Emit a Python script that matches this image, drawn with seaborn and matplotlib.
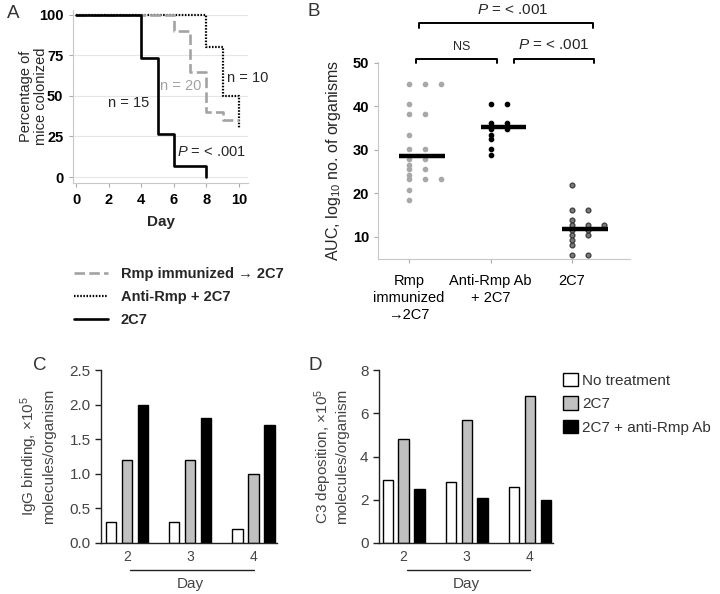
import pandas as pd
import matplotlib
matplotlib.use("Agg")
import matplotlib.pyplot as plt
from matplotlib.lines import Line2D
from matplotlib.patches import Patch
import seaborn as sns

# --- Panel A: percentage of mice still colonized ---
rmp_days = [0, 6, 7, 8, 9, 10]
rmp_pct = [100, 90, 65, 40, 35, 35]
anti_days = [0, 8, 9, 10]
anti_pct = [100, 80, 50, 30]
c2c7_days = [0, 4, 5, 6, 8]
c2c7_pct = [100, 73.3, 26.7, 6.7, 0]
km_labels = ["Rmp immunized \u2192 2C7", "Anti-Rmp + 2C7", "2C7"]

# --- Panel B: AUC per mouse ---
auc_groups = ["Rmp\nimmunized\n\u21922C7", "Anti-Rmp Ab\n+ 2C7", "2C7"]
auc_rmp = [45.1, 45.1, 45.1, 40.5, 38.2, 38.2, 33.5, 30.1, 30.1, 27.8, 27.8,
           26.6, 25.5, 25.5, 24.3, 23.2, 23.2, 23.2, 20.8, 18.5]
auc_anti = [40.5, 40.5, 36.1, 36.1, 34.9, 34.9, 33.5, 32.4, 30.1, 28.9]
auc_2c7 = [22.0, 16.2, 16.2, 13.9, 12.8, 12.8, 12.8, 11.6, 11.6, 10.4, 10.4,
           9.3, 8.1, 5.8, 5.8]
auc_medians = [28.5, 35.2, 11.8]

# --- Panels C and D: bars by day ---
days = ["2", "3", "4"]
treatments = ["No treatment", "2C7", "2C7 + anti-Rmp Ab"]
igg_none = [0.3, 0.3, 0.2]
igg_2c7 = [1.2, 1.2, 1.0]
igg_both = [2.0, 1.8, 1.7]
c3_none = [2.9, 2.8, 2.6]
c3_2c7 = [4.8, 5.7, 6.8]
c3_both = [2.5, 2.1, 2.0]

sns.set_theme(style="ticks")
plt.rcParams['font.family'] = ['Liberation Sans', 'DejaVu Sans']
plt.rcParams['mathtext.fontset'] = 'custom'
plt.rcParams['mathtext.rm'] = 'Liberation Sans'
plt.rcParams['mathtext.it'] = 'Liberation Sans:italic'
plt.rcParams['mathtext.bf'] = 'Liberation Sans:bold'

W, H = 720, 594
fig = plt.figure(figsize=(7.2, 5.94), dpi=100)


def px_axes(left, top, right, bottom):
    return fig.add_axes([left / W, 1 - bottom / H, (right - left) / W, (bottom - top) / H])


# ---------------- Panel A ----------------
axA = px_axes(73, 10, 248, 183)
km_styles = [
    (rmp_days, rmp_pct, '#a3a3a3', (4, 1.6), 1.9),
    (anti_days, anti_pct, 'black', (0.7, 0.7), 1.6),
    (c2c7_days, c2c7_pct, 'black', '', 1.9),
]
handles = []
# dotted first, then dashed, solid on top
for d, p, col, dash, lw in [km_styles[1], km_styles[0], km_styles[2]]:
    sns.lineplot(x=d, y=p, color=col, linewidth=lw, drawstyle='steps-post',
                 estimator=None, ax=axA)
    line = axA.lines[-1]
    if dash:
        line.set_dashes(dash)
for d, p, col, dash, lw in km_styles:
    h = Line2D([], [], color=col, linewidth=lw)
    if dash:
        h.set_dashes(dash)
    handles.append(h)

axA.set_xlim(-0.2, 10.55)
axA.set_ylim(-3.7, 103)
axA.set_xticks(range(0, 11, 2))
axA.set_yticks([0, 25, 50, 75, 100])
axA.grid(axis='y', color='#e6e6e6', linewidth=0.8)
axA.set_axisbelow(True)
for s in ['top', 'right']:
    axA.spines[s].set_visible(False)
for s in ['left', 'bottom']:
    axA.spines[s].set_color('#c8c8c8')
    axA.spines[s].set_linewidth(0.8)
axA.tick_params(axis='both', colors='#aaaaaa', labelcolor='black', length=3,
                width=0.8, labelsize=10.5, pad=4)
for t in axA.get_xticklabels() + axA.get_yticklabels():
    t.set_fontweight('bold')
axA.set_xlabel('Day', fontsize=11, fontweight='bold', labelpad=6)
axA.set_ylabel('Percentage of\nmice colonized', fontsize=10.5, linespacing=1.1)
axA.yaxis.set_label_coords(-0.145, 0.5)

axA.text(3.2, 45.5, 'n = 15', fontsize=10.5, ha='center', va='center')
axA.text(6.4, 56, 'n = 20', fontsize=10.5, ha='center', va='center', color='#a3a3a3')
axA.text(9.25, 61, 'n = 10', fontsize=10.5, ha='left', va='center')
axA.text(8.3, 15.4, '$P$ = < .001', fontsize=10.5, ha='center', va='center')

fig.legend(handles, km_labels, loc='upper left', bbox_to_anchor=(74 / W, 1 - 267 / H),
           frameon=False, handlelength=2.3, handletextpad=0.9, labelspacing=0.62,
           borderpad=0, borderaxespad=0, prop={'size': 10.5, 'weight': 'bold'})

# ---------------- Panel B ----------------
axB = px_axes(378, 62, 630, 259)
auc = pd.DataFrame({
    'group': [0] * len(auc_rmp) + [1] * len(auc_anti) + [2] * len(auc_2c7),
    'auc': auc_rmp + auc_anti + auc_2c7,
})
# repeated values are spread sideways, one column per repeat
auc['rank'] = auc.groupby(['group', 'auc']).cumcount()
auc['xpos'] = auc['group'] + auc['rank'] * 0.196
dot_styles = [('#a8a8a8', '#a8a8a8', 10), ('black', 'black', 10), ('#7a7a7a', '#3c3c3c', 12)]
for g, (fc, ec, size) in enumerate(dot_styles):
    sns.scatterplot(data=auc[auc['group'] == g], x='xpos', y='auc', color=fc,
                    edgecolor=ec, linewidth=0.9, s=size, ax=axB, zorder=3)
for g, m in enumerate(auc_medians):
    axB.hlines(m, g - 0.12, g + 0.44, color='black', linewidth=3.2, zorder=4)

axB.set_xlim(-0.38, 2.71)
axB.set_ylim(4.92, 50.2)
axB.set_xticks(range(3))
axB.set_xticklabels(auc_groups)
axB.set_yticks([10, 20, 30, 40, 50])
for s in ['top', 'right']:
    axB.spines[s].set_visible(False)
for s in ['left', 'bottom']:
    axB.spines[s].set_color('#c8c8c8')
    axB.spines[s].set_linewidth(0.8)
axB.tick_params(axis='both', colors='#aaaaaa', labelcolor='black', length=3,
                width=0.8, labelsize=10.5)
axB.tick_params(axis='x', pad=8)
for t in axB.get_yticklabels():
    t.set_fontweight('bold')
for t in axB.get_xticklabels():
    t.set_linespacing(1.25)
axB.set_xlabel('')
axB.set_ylabel('AUC, log$_{10}$ no. of organisms', fontsize=11.5)
axB.yaxis.set_label_coords(-0.14, 0.5)

# significance brackets
br_kw = dict(color='black', linewidth=1.4, clip_on=False)
axB.plot([0.12, 0.12, 2.26, 2.26], [58.1, 59.2, 59.2, 58.1], **br_kw)
axB.plot([0.09, 0.09, 1.08, 1.08], [50.0, 51.0, 51.0, 50.0], **br_kw)
axB.plot([1.29, 1.29, 2.27, 2.27], [50.0, 51.0, 51.0, 50.0], **br_kw)
axB.text(1.27, 62.2, '$P$ = < .001', fontsize=11, ha='center', va='center')
axB.text(0.65, 53.6, 'NS', fontsize=9, ha='center', va='center')
axB.text(1.78, 54.2, '$P$ = < .001', fontsize=11, ha='center', va='center')

# ---------------- Panels C and D ----------------
bar_palette = ['white', '#c0c0c0', 'black']


def bar_panel(ax, vals, ylim, yticks, fmt, ylabel, label_x, xlim):
    df = pd.DataFrame({
        'day': days * 3,
        'treatment': [t for t in treatments for _ in days],
        'value': vals[0] + vals[1] + vals[2],
    })
    sns.barplot(data=df, x='day', y='value', hue='treatment', hue_order=treatments,
                palette=bar_palette, saturation=1, edgecolor='black', linewidth=1,
                width=0.76, gap=0.36, legend=False, ax=ax)
    ax.set_xlim(*xlim)
    ax.set_ylim(*ylim)
    ax.set_yticks(yticks)
    ax.set_yticklabels([fmt.format(v) for v in yticks])
    for s in ['top', 'right']:
        ax.spines[s].set_visible(False)
    for s in ['left', 'bottom']:
        ax.spines[s].set_color('#222222')
        ax.spines[s].set_linewidth(1)
    ax.tick_params(axis='y', colors='#222222', labelcolor='#444444', length=4,
                   width=1, labelsize=11)
    ax.tick_params(axis='x', length=0, labelcolor='#444444', labelsize=10, pad=5)
    ax.set_xlabel('')
    ax.set_ylabel(ylabel, fontsize=11, color='#444444', linespacing=1.15)
    ax.yaxis.set_label_coords(label_x, 0.5)
    ax.plot([0.05, 2.0], [-0.155, -0.155], color='#222222', linewidth=1,
            transform=ax.get_xaxis_transform(), clip_on=False)
    ax.text(1.0, -0.235, 'Day', transform=ax.get_xaxis_transform(), ha='center',
            va='center', fontsize=11, color='#444444')


axC = px_axes(101, 370, 277, 543)
bar_panel(axC, [igg_none, igg_2c7, igg_both], (0, 2.5), [0, 0.5, 1.0, 1.5, 2.0, 2.5],
          '{:.1f}', 'IgG binding, \u00d710$^5$\nmolecules/organism', -0.255, (-0.41, 2.37))

axD = px_axes(379, 370, 553, 543)
bar_panel(axD, [c3_none, c3_2c7, c3_both], (0, 8), [0, 2, 4, 6, 8],
          '{:.0f}', 'C3 deposition, \u00d710$^5$\nmolecules/organism', -0.17, (-0.39, 2.37))

leg_handles = [Patch(facecolor=c, edgecolor='black', linewidth=1) for c in bar_palette]
axD.legend(leg_handles, treatments, loc='upper left', bbox_to_anchor=(1.055, 0.985),
           frameon=False, handlelength=1.0, handleheight=1.0, handletextpad=0.3,
           labelspacing=0.55, borderpad=0, borderaxespad=0,
           prop={'size': 11}, labelcolor='#333333')

# panel letters
for letter, x, y in [('A', 13, 13), ('B', 314, 11), ('C', 40, 365), ('D', 315, 365)]:
    fig.text(x / W, 1 - y / H, letter, fontsize=13.5, ha='center', va='center',
             color='#333333')

fig.savefig('out.png', dpi=100)
